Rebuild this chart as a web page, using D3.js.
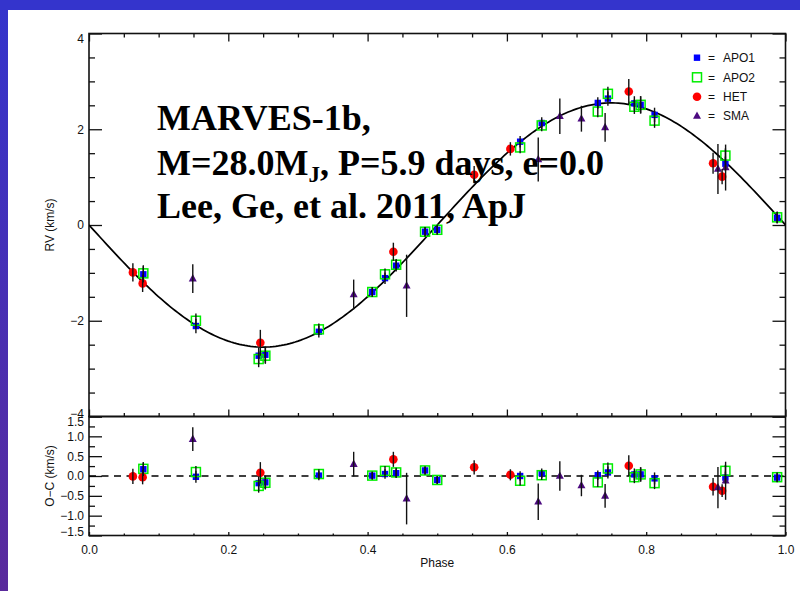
<!DOCTYPE html>
<html><head><meta charset="utf-8">
<script src="https://cdn.jsdelivr.net/npm/d3@7"></script>
<style>body{margin:0;background:#fff;} svg{display:block}</style>
</head><body>
<svg id="c" width="800" height="591"></svg>
<script>
// ---------- data ----------
const apo1Phase = [0.078, 0.1535, 0.2436, 0.2532, 0.330, 0.4067, 0.425, 0.441, 0.4825, 0.500, 0.619, 0.650, 0.7305, 0.745, 0.783, 0.792, 0.812, 0.9137, 0.988];
const apo1RV    = [-1.03, -2.11, -2.73, -2.71, -2.23, -1.40, -1.11, -0.85, -0.14, -0.10, 1.74, 2.13, 2.55, 2.64, 2.54, 2.51, 2.30, 1.28, 0.15];
const apo1OC    = [0.17, -0.02, -0.18, -0.16, 0.01, 0.01, 0.05, 0.07, 0.14, -0.10, 0.00, 0.07, 0.02, 0.09, 0.04, 0.04, -0.06, -0.04, -0.04];
const apo1Err   = [0.17, 0.15, 0.17, 0.17, 0.12, 0.10, 0.12, 0.12, 0.10, 0.10, 0.12, 0.12, 0.12, 0.15, 0.15, 0.18, 0.15, 0.15, 0.12];

const apo2Phase = [0.078, 0.1535, 0.2436, 0.2532, 0.330, 0.4067, 0.425, 0.441, 0.4825, 0.500, 0.619, 0.650, 0.7305, 0.745, 0.783, 0.792, 0.812, 0.9137, 0.988];
const apo2RV    = [-1.01, -2.00, -2.80, -2.73, -2.18, -1.40, -1.03, -0.83, -0.14, -0.10, 1.62, 2.08, 2.37, 2.74, 2.47, 2.51, 2.18, 1.45, 0.16];
const apo2OC    = [0.18, 0.10, -0.25, -0.17, 0.05, 0.01, 0.13, 0.09, 0.14, -0.10, -0.12, 0.02, -0.16, 0.19, -0.03, 0.04, -0.18, 0.13, -0.03];
const apo2Err   = [0.17, 0.15, 0.17, 0.17, 0.12, 0.10, 0.12, 0.12, 0.10, 0.10, 0.12, 0.12, 0.12, 0.15, 0.15, 0.18, 0.15, 0.15, 0.12];

const hetPhase = [0.063, 0.077, 0.246, 0.437, 0.553, 0.605, 0.775, 0.896, 0.909];
const hetRV    = [-0.99, -1.22, -2.46, -0.56, 1.05, 1.59, 2.79, 1.29, 1.01];
const hetOC    = [-0.01, -0.03, 0.08, 0.42, 0.22, 0.03, 0.26, -0.27, -0.37];
const hetErr   = [0.19, 0.18, 0.27, 0.19, 0.18, 0.14, 0.26, 0.22, 0.16];

const smaPhase = [0.149, 0.380, 0.456, 0.645, 0.676, 0.707, 0.741, 0.903, 0.914];
const smaRV    = [-1.12, -1.45, -1.27, 1.37, 2.27, 2.22, 2.04, 1.17, 1.20];
const smaOC    = [0.93, 0.30, -0.57, -0.65, 0.00, -0.24, -0.50, -0.29, -0.12];
const smaErr   = [0.30, 0.31, 0.65, 0.46, 0.37, 0.27, 0.30, 0.52, 0.48];

const modelK = 2.55;  // semi-amplitude of the circular-orbit fit (km/s)

const xMajor = [0, 0.2, 0.4, 0.6, 0.8, 1.0];
const xLabels = ["0.0", "0.2", "0.4", "0.6", "0.8", "1.0"];
const rvMajor = [-4, -2, 0, 2, 4];
const ocMajor = [-1.5, -1.0, -0.5, 0.0, 0.5, 1.0, 1.5];

const legendNames = ["APO1", "APO2", "HET", "SMA"];
const titleLines = ["MARVES-1b,", "M=28.0M", "Lee, Ge, et al. 2011, ApJ"];

// ---------- drawing ----------
const svg = d3.select("#c");
const defs = svg.append("defs");
const g = defs.append("linearGradient").attr("id", "bg").attr("x1", 0).attr("y1", 0).attr("x2", 0).attr("y2", 1);
g.append("stop").attr("offset", "0%").attr("stop-color", "#3434cc");
g.append("stop").attr("offset", "100%").attr("stop-color", "#5a2a9c");
svg.append("rect").attr("width", 800).attr("height", 591).attr("fill", "#fff");
svg.append("rect").attr("x", 0).attr("y", 0).attr("width", 8).attr("height", 591).attr("fill", "url(#bg)");
svg.append("rect").attr("x", 0).attr("y", 0).attr("width", 800).attr("height", 10).attr("fill", "#3434cc");

const L = 89, R = 785.5, T = 33.5, MB = 416.5, RB = 535.5;
const x = d3.scaleLinear().domain([0, 1]).range([L, R]);
const y = d3.scaleLinear().domain([-4, 4]).range([MB, T]);
const yr = d3.scaleLinear().domain([-1.5, 1.5]).range([RB, MB]);

const FONT = "'Liberation Sans', Arial, Helvetica, sans-serif";
const minus = s => s.replace("-", "\u2212");

const xMinor = d3.range(0, 1.0001, 0.05).filter(v => Math.abs(v / 0.2 - Math.round(v / 0.2)) > 1e-6);
const rvMinor = d3.range(-4, 4.0001, 0.5).filter(v => Math.abs(v / 2 - Math.round(v / 2)) > 1e-6);
const ocMinor = d3.range(-1.5, 1.5001, 0.25).filter(v => Math.abs(v / 0.5 - Math.round(v / 0.5)) > 1e-6);

function drawAxis(axis, tx, ty) {
  const gg = svg.append("g").attr("transform", `translate(${tx},${ty})`).call(axis);
  gg.select(".domain").remove();
  gg.selectAll("line").attr("stroke", "#111").attr("stroke-width", 1.3);
  gg.selectAll("text").attr("font-family", FONT).attr("font-size", 12).attr("fill", "#111");
  return gg;
}
const noLab = () => "";

// main panel y axes
const rvL = drawAxis(d3.axisLeft(y).tickValues(rvMajor).tickSizeInner(-13).tickSizeOuter(0).tickPadding(5)
  .tickFormat(d => minus(String(d))), L, 0);
rvL.selectAll(".tick text").attr("dy", d => d === 4 ? "0.75em" : d === -4 ? "0.05em" : "0.32em");
drawAxis(d3.axisLeft(y).tickValues(rvMinor).tickSizeInner(-6).tickSizeOuter(0).tickFormat(noLab), L, 0);
drawAxis(d3.axisRight(y).tickValues(rvMajor).tickSizeInner(-13).tickSizeOuter(0).tickFormat(noLab), R, 0);
drawAxis(d3.axisRight(y).tickValues(rvMinor).tickSizeInner(-6).tickSizeOuter(0).tickFormat(noLab), R, 0);
// main panel x axes
drawAxis(d3.axisTop(x).tickValues(xMajor).tickSizeInner(-8).tickSizeOuter(0).tickFormat(noLab), 0, T);
drawAxis(d3.axisTop(x).tickValues(xMinor).tickSizeInner(-4).tickSizeOuter(0).tickFormat(noLab), 0, T);
drawAxis(d3.axisBottom(x).tickValues(xMajor).tickSizeInner(-7).tickSizeOuter(0).tickFormat(noLab), 0, MB);
drawAxis(d3.axisBottom(x).tickValues(xMinor).tickSizeInner(-3.5).tickSizeOuter(0).tickFormat(noLab), 0, MB);

// residual panel axes
const ocL = drawAxis(d3.axisLeft(yr).tickValues(ocMajor).tickSizeInner(-13).tickSizeOuter(0).tickPadding(5)
  .tickFormat(d => minus(d3.format(".1f")(d))), L, 0);
ocL.selectAll(".tick text").attr("dy", d => d === 1.5 ? "0.72em" : d === -1.5 ? "0.02em" : "0.32em");
drawAxis(d3.axisLeft(yr).tickValues(ocMinor).tickSizeInner(-6).tickSizeOuter(0).tickFormat(noLab), L, 0);
drawAxis(d3.axisRight(yr).tickValues(ocMajor).tickSizeInner(-13).tickSizeOuter(0).tickFormat(noLab), R, 0);
drawAxis(d3.axisRight(yr).tickValues(ocMinor).tickSizeInner(-6).tickSizeOuter(0).tickFormat(noLab), R, 0);
drawAxis(d3.axisBottom(x).tickValues(xMajor).tickSizeInner(-3.5).tickSizeOuter(0).tickPadding(9.5)
  .tickFormat((d, i) => xLabels[i]), 0, RB);
drawAxis(d3.axisBottom(x).tickValues(xMinor).tickSizeInner(-2).tickSizeOuter(0).tickFormat(noLab), 0, RB);

// frames
svg.append("rect").attr("x", L).attr("y", T).attr("width", R - L).attr("height", MB - T)
  .attr("fill", "none").attr("stroke", "#111").attr("stroke-width", 1.6);
svg.append("rect").attr("x", L).attr("y", MB).attr("width", R - L).attr("height", RB - MB)
  .attr("fill", "none").attr("stroke", "#111").attr("stroke-width", 1.6);

// axis titles
svg.append("text").attr("transform", `translate(54,225) rotate(-90)`).attr("text-anchor", "middle")
  .attr("font-family", FONT).attr("font-size", 12).attr("fill", "#111").text("RV (km/s)");
svg.append("text").attr("transform", `translate(54,476) rotate(-90)`).attr("text-anchor", "middle")
  .attr("font-family", FONT).attr("font-size", 12).attr("fill", "#111").text("O\u2212C (km/s)");
svg.append("text").attr("x", (L + R) / 2).attr("y", 567).attr("text-anchor", "middle")
  .attr("font-family", FONT).attr("font-size", 12).attr("fill", "#111").text("Phase");

// model curve and zero line
svg.append("clipPath").attr("id", "mainClip").append("rect").attr("x", L).attr("y", T).attr("width", R - L).attr("height", MB - T);
const modelPhases = d3.range(0, 1.0001, 0.004);
svg.append("path").datum(modelPhases).attr("clip-path", "url(#mainClip)")
  .attr("d", d3.line().x(p => x(p)).y(p => y(-modelK * Math.sin(2 * Math.PI * p))))
  .attr("fill", "none").attr("stroke", "#000").attr("stroke-width", 1.7);
svg.append("line").attr("x1", L).attr("x2", R).attr("y1", yr(0)).attr("y2", yr(0))
  .attr("stroke", "#000").attr("stroke-width", 1.4).attr("stroke-dasharray", "7,5.5");

// series
const series = [
  {name: "APO1", ph: apo1Phase, rv: apo1RV, oc: apo1OC, err: apo1Err, kind: "fsq", color: "#0000ff"},
  {name: "APO2", ph: apo2Phase, rv: apo2RV, oc: apo2OC, err: apo2Err, kind: "osq", color: "#00ee00"},
  {name: "HET",  ph: hetPhase,  rv: hetRV,  oc: hetOC,  err: hetErr,  kind: "circ", color: "#ff0000"},
  {name: "SMA",  ph: smaPhase,  rv: smaRV,  oc: smaOC,  err: smaErr,  kind: "tri", color: "#4c0a80"}
];

function marker(sel, kind, color, cx, cy) {
  if (kind === "fsq") sel.append("rect").attr("x", cx - 3.2).attr("y", cy - 3.2).attr("width", 6.4).attr("height", 6.4).attr("fill", color);
  else if (kind === "osq") sel.append("rect").attr("x", cx - 4.5).attr("y", cy - 4.5).attr("width", 9).attr("height", 9)
    .attr("fill", "none").attr("stroke", color).attr("stroke-width", 1.5);
  else if (kind === "circ") sel.append("circle").attr("cx", cx).attr("cy", cy).attr("r", 4.3).attr("fill", color);
  else sel.append("path").attr("d", `M${cx},${cy - 4.5}L${cx + 4},${cy + 2.8}L${cx - 4},${cy + 2.8}Z`).attr("fill", color);
}

const markG = svg.append("g");
const barG = svg.append("g");
series.forEach(s => {
  s.ph.forEach((p, i) => {
    marker(markG, s.kind, s.color, x(p), y(s.rv[i]));
    marker(markG, s.kind, s.color, x(p), yr(s.oc[i]));
    barG.append("line").attr("x1", x(p)).attr("x2", x(p)).attr("y1", y(s.rv[i] - s.err[i])).attr("y2", y(s.rv[i] + s.err[i]))
      .attr("stroke", "#111").attr("stroke-width", 1.4);
    barG.append("line").attr("x1", x(p)).attr("x2", x(p)).attr("y1", yr(s.oc[i] - s.err[i])).attr("y2", yr(s.oc[i] + s.err[i]))
      .attr("stroke", "#111").attr("stroke-width", 1.4);
  });
});

// legend
const legY = [57.7, 77.3, 96.7, 116];
series.forEach((s, i) => {
  marker(svg, s.kind, s.color, 697, legY[i]);
  svg.append("text").attr("x", 708).attr("y", legY[i] + 4.3).attr("font-family", FONT).attr("font-size", 12)
    .attr("fill", "#111").text("=");
  svg.append("text").attr("x", 723).attr("y", legY[i] + 4.3).attr("font-family", FONT).attr("font-size", 12)
    .attr("fill", "#111").text(legendNames[i]);
});

// annotation text
const SERIF = "'Liberation Serif', 'Times New Roman', Times, serif";
const ann = svg.append("g").attr("font-family", SERIF).attr("font-weight", "bold").attr("font-size", 36).attr("fill", "#000");
ann.append("text").attr("x", 157).attr("y", 130).text(titleLines[0]);
const t2 = ann.append("text").attr("x", 157).attr("y", 174.5);
t2.append("tspan").text(titleLines[1]);
t2.append("tspan").attr("font-size", 23).attr("dy", 7).text("J");
t2.append("tspan").attr("dy", -7).text(", P=5.9 days, e=0.0");
ann.append("text").attr("x", 157).attr("y", 218).text(titleLines[2]);
</script>
</body></html>
